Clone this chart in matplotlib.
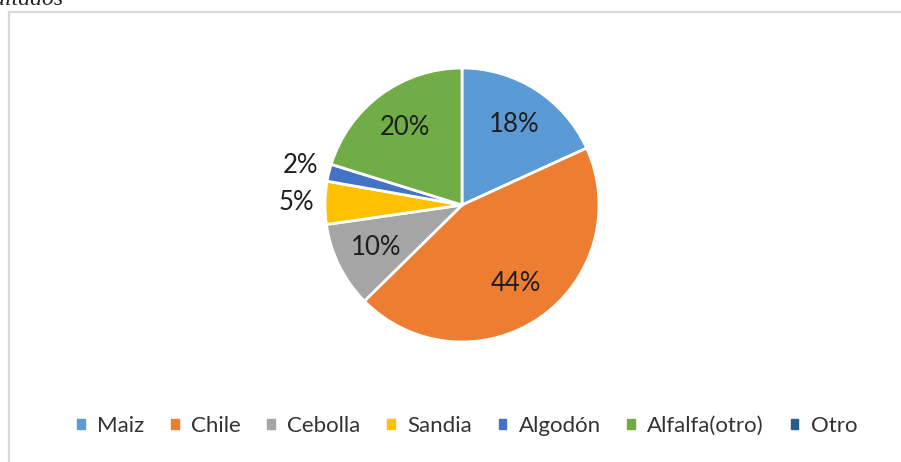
import numpy as np
import matplotlib
matplotlib.use("Agg")
import matplotlib.pyplot as plt
from matplotlib.patches import Rectangle

# crop shares (percent)
cultivos = ["Maiz", "Chile", "Cebolla", "Sandia", "Algodón", "Alfalfa(otro)", "Otro"]
porcentajes = [18, 44, 10, 5, 2, 20, 0]
colores = ["#5B9BD5", "#ED7D31", "#A5A5A5", "#FFC000", "#4472C4", "#70AD47", "#255E91"]

plt.rcParams["font.family"] = ["Lato", "DejaVu Sans"]

W, H = 901, 462
fig = plt.figure(figsize=(W / 100, H / 100), dpi=100)

# chart frame (extends past right/bottom edge)
fig.patches.append(Rectangle((9 / W, -0.1), 1.2, 1 - 12 / H + 0.1, transform=fig.transFigure,
                             fill=False, edgecolor="#d9d9d9", linewidth=1.6))
# caption from the surrounding document, cut off at the top
fig.text(63 / W, 1 - 5 / H, "Resultados", ha="right", va="baseline",
         family="Liberation Serif", style="italic", fontsize=17, color="#222222")

cx, cy, r = 462, 205, 137
half = 1.25 * r
ax = fig.add_axes([(cx - half) / W, (H - cy - half) / H, 2 * half / W, 2 * half / H])

valores = np.array(porcentajes, dtype=float)
mask = valores > 0
wedges, _ = ax.pie(valores[mask], colors=np.array(colores)[mask], startangle=90, counterclock=False,
                   wedgeprops=dict(edgecolor="white", linewidth=2))

for w, v in zip(wedges, valores[mask]):
    ang = np.deg2rad((w.theta1 + w.theta2) / 2)
    dist = 0.70 if v >= 8 else 1.21
    ax.text(dist * np.cos(ang), dist * np.sin(ang), f"{v:.0f}%", ha="center", va="center",
            fontsize=18.5, color="#1e1e1e")

handles = [Rectangle((0, 0), 1, 1, color=c) for c in colores]
fig.legend(handles, cultivos, loc="center", bbox_to_anchor=(467 / W, (H - 426) / H), ncol=7,
           frameon=False, fontsize=16, handlelength=0.35, handleheight=0.35,
           handletextpad=0.55, columnspacing=1.2, labelcolor="#333333")

fig.savefig("out.png", dpi=100)
